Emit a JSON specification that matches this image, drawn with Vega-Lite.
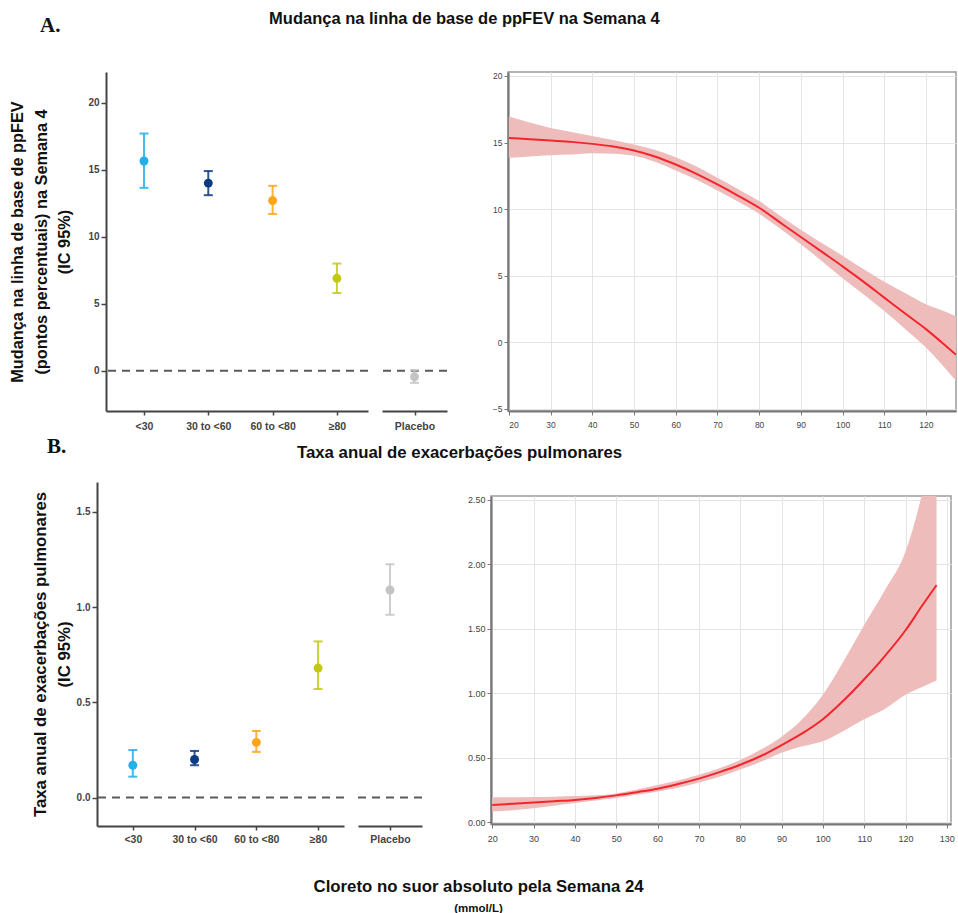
{
  "$schema": "https://vega.github.io/schema/vega-lite/v6.json",
  "padding": {"left": 8, "top": 10, "right": 0, "bottom": 0},
  "background": "white",
  "config": {
    "view": {"stroke": null},
    "font": "Liberation Sans",
    "axis": {"labelFont": "Liberation Sans", "titleFont": "Liberation Sans", "labelColor": "#444", "titleColor": "#111", "grid": false},
    "title": {"font": "Liberation Sans", "color": "#111"}
  },
  "datasets": {
    "fev": [
      {"group": "<30", "est": 15.65, "lo": 13.65, "hi": 17.7},
      {"group": "30 to <60", "est": 14.0, "lo": 13.1, "hi": 14.9},
      {"group": "60 to <80", "est": 12.7, "lo": 11.7, "hi": 13.8},
      {"group": "≥80", "est": 6.9, "lo": 5.8, "hi": 8.0},
      {"group": "Placebo", "est": -0.45, "lo": -0.9, "hi": 0.05}
    ],
    "rate": [
      {"group": "<30", "est": 0.17, "lo": 0.11, "hi": 0.25},
      {"group": "30 to <60", "est": 0.2, "lo": 0.17, "hi": 0.245},
      {"group": "60 to <80", "est": 0.29, "lo": 0.24, "hi": 0.35},
      {"group": "≥80", "est": 0.68, "lo": 0.57, "hi": 0.82},
      {"group": "Placebo", "est": 1.09, "lo": 0.96, "hi": 1.225}
    ],
    "fevCurve": [
      {"x": 20, "est": 15.35, "lo": 13.85, "hi": 16.95},
      {"x": 25, "est": 15.25, "lo": 13.95, "hi": 16.5},
      {"x": 30, "est": 15.15, "lo": 14.05, "hi": 16.1},
      {"x": 35, "est": 15.05, "lo": 14.1, "hi": 15.8},
      {"x": 40, "est": 14.9, "lo": 14.2, "hi": 15.5},
      {"x": 45, "est": 14.7, "lo": 14.15, "hi": 15.2},
      {"x": 50, "est": 14.4, "lo": 14.0, "hi": 14.85},
      {"x": 55, "est": 13.95, "lo": 13.55, "hi": 14.45},
      {"x": 60, "est": 13.35, "lo": 12.9, "hi": 13.9},
      {"x": 65, "est": 12.65, "lo": 12.2, "hi": 13.2},
      {"x": 70, "est": 11.85, "lo": 11.4, "hi": 12.35},
      {"x": 75, "est": 11.0, "lo": 10.55, "hi": 11.5},
      {"x": 80, "est": 10.1, "lo": 9.65, "hi": 10.6},
      {"x": 85, "est": 9.0, "lo": 8.55, "hi": 9.5},
      {"x": 90, "est": 7.9, "lo": 7.35, "hi": 8.45},
      {"x": 95, "est": 6.8, "lo": 6.1, "hi": 7.45},
      {"x": 100, "est": 5.7, "lo": 4.8, "hi": 6.5},
      {"x": 105, "est": 4.55, "lo": 3.6, "hi": 5.5},
      {"x": 110, "est": 3.35, "lo": 2.35, "hi": 4.55},
      {"x": 115, "est": 2.15, "lo": 1.0, "hi": 3.7},
      {"x": 120, "est": 0.98, "lo": -0.4, "hi": 2.85},
      {"x": 125, "est": -0.35, "lo": -2.1, "hi": 2.25},
      {"x": 127.2, "est": -0.95, "lo": -2.9, "hi": 1.95}
    ],
    "rateCurve": [
      {"x": 20, "est": 0.135, "lo": 0.085, "hi": 0.195},
      {"x": 25, "est": 0.145, "lo": 0.095, "hi": 0.195},
      {"x": 30, "est": 0.155, "lo": 0.11, "hi": 0.197},
      {"x": 35, "est": 0.165, "lo": 0.13, "hi": 0.2},
      {"x": 40, "est": 0.175, "lo": 0.15, "hi": 0.205},
      {"x": 45, "est": 0.19, "lo": 0.17, "hi": 0.21},
      {"x": 50, "est": 0.21, "lo": 0.19, "hi": 0.225},
      {"x": 55, "est": 0.235, "lo": 0.215, "hi": 0.255},
      {"x": 60, "est": 0.262, "lo": 0.24, "hi": 0.29},
      {"x": 65, "est": 0.298, "lo": 0.27, "hi": 0.325},
      {"x": 70, "est": 0.34, "lo": 0.31, "hi": 0.37},
      {"x": 75, "est": 0.39, "lo": 0.355, "hi": 0.42},
      {"x": 80, "est": 0.447, "lo": 0.41, "hi": 0.485},
      {"x": 85, "est": 0.515, "lo": 0.47, "hi": 0.565},
      {"x": 90, "est": 0.6, "lo": 0.54, "hi": 0.665},
      {"x": 95, "est": 0.69, "lo": 0.59, "hi": 0.8},
      {"x": 100, "est": 0.8, "lo": 0.63, "hi": 0.99},
      {"x": 105, "est": 0.945, "lo": 0.71, "hi": 1.25},
      {"x": 110, "est": 1.11, "lo": 0.8, "hi": 1.53},
      {"x": 115, "est": 1.29, "lo": 0.88, "hi": 1.8},
      {"x": 120, "est": 1.49, "lo": 0.99, "hi": 2.1},
      {"x": 124, "est": 1.68, "lo": 1.05, "hi": 2.55},
      {"x": 127.5, "est": 1.84, "lo": 1.1, "hi": 3.1}
    ]
  },
  "spacing": 4,
  "vconcat": [
    {
      "title": {"text": "Mudança na linha de base de ppFEV na Semana 4", "fontSize": 16.5, "fontWeight": "bold", "anchor": "middle", "offset": -12, "dx": -18},
      "vconcat": [
        {
          "title": {"text": "A.", "anchor": "start", "font": "Liberation Serif", "fontSize": 21, "fontWeight": "bold", "offset": 35, "dx": 32},
          "spacing": 0,
          "hconcat": [
            {"width": 1, "height": 1, "data": {"values": []}, "mark": "point", "encoding": {}},
            {
              "spacing": 43,
              "hconcat": [
                {
                  "spacing": 12,
                  "hconcat": [
                    {
                      "width": 262, "height": 339,
                      "data": {"name": "fev"},
                      "transform": [{"filter": "datum.group !== 'Placebo'"}],
                      "layer": [
                        {
                          "data": {"values": [{"ref": 0}]},
                          "mark": {"type": "rule", "strokeDash": [8, 6], "strokeWidth": 2, "color": "#5a5a5a"},
                          "encoding": {"y": {"field": "ref", "type": "quantitative", "scale": {"domain": [-3.0, 22.29], "nice": false, "zero": false},
                            "axis": {"title": ["Mudança na linha de base de ppFEV", "(pontos percentuais) na Semana 4", "(IC 95%)"], "titleFontSize": 16.3, "titleFontWeight": "bold", "titleLineHeight": 23.5, "titlePadding": 15, "values": [0, 5, 10, 15, 20], "labelFontSize": 10, "labelFontWeight": "bold", "tickSize": 5, "tickWidth": 1.5, "domainWidth": 2, "domainColor": "#444", "tickColor": "#444"}}}
                        },
                        {
                          "mark": {"type": "rule", "strokeWidth": 2, "opacity": 0.85},
                          "encoding": {
                            "x": {"field": "group", "type": "ordinal", "sort": ["<30", "30 to <60", "60 to <80", "≥80"], "scale": {"type": "point", "padding": 0.537, "align": 0.55},
                              "axis": {"title": null, "labelAngle": 0, "labelFontSize": 10.5, "labelFontWeight": "bold", "labelPadding": 6, "tickSize": 4, "tickWidth": 1.5, "domainWidth": 2, "domainColor": "#444", "tickColor": "#444"}},
                            "y": {"field": "lo", "type": "quantitative", "scale": {"domain": [-3.0, 22.29], "nice": false, "zero": false},
                              "axis": {"title": ["Mudança na linha de base de ppFEV", "(pontos percentuais) na Semana 4", "(IC 95%)"], "titleFontSize": 16.3, "titleFontWeight": "bold", "titleLineHeight": 23.5, "titlePadding": 15, "values": [0, 5, 10, 15, 20], "labelFontSize": 10, "labelFontWeight": "bold", "tickSize": 5, "tickWidth": 1.5, "domainWidth": 2, "domainColor": "#444", "tickColor": "#444"}},
                            "y2": {"field": "hi"},
                            "color": {"field": "group", "type": "nominal", "scale": {"domain": ["<30", "30 to <60", "60 to <80", "≥80", "Placebo"], "range": ["#22b0ea", "#0b3a80", "#ffa41a", "#c3c814", "#c4c4c4"]}, "legend": null}
                          }
                        },
                        {
                          "mark": {"type": "tick", "thickness": 2, "size": 9, "opacity": 0.85},
                          "encoding": {
                            "x": {"field": "group", "type": "ordinal", "sort": ["<30", "30 to <60", "60 to <80", "≥80"], "scale": {"type": "point", "padding": 0.537, "align": 0.55}},
                            "y": {"field": "lo", "type": "quantitative"},
                            "color": {"field": "group", "type": "nominal", "legend": null}
                          }
                        },
                        {
                          "mark": {"type": "tick", "thickness": 2, "size": 9, "opacity": 0.85},
                          "encoding": {
                            "x": {"field": "group", "type": "ordinal", "sort": ["<30", "30 to <60", "60 to <80", "≥80"], "scale": {"type": "point", "padding": 0.537, "align": 0.55}},
                            "y": {"field": "hi", "type": "quantitative"},
                            "color": {"field": "group", "type": "nominal", "legend": null}
                          }
                        },
                        {
                          "mark": {"type": "circle", "size": 80, "opacity": 1},
                          "encoding": {
                            "x": {"field": "group", "type": "ordinal", "sort": ["<30", "30 to <60", "60 to <80", "≥80"], "scale": {"type": "point", "padding": 0.537, "align": 0.55}},
                            "y": {"field": "est", "type": "quantitative"},
                            "color": {"field": "group", "type": "nominal", "legend": null}
                          }
                        }
                      ]
                    },
                    {
                      "width": 65, "height": 339,
                      "data": {"name": "fev"},
                      "transform": [{"filter": "datum.group === 'Placebo'"}],
                      "layer": [
                        {
                          "data": {"values": [{"ref": 0}]},
                          "mark": {"type": "rule", "strokeDash": [8, 6], "strokeWidth": 2, "color": "#5a5a5a"},
                          "encoding": {"y": {"field": "ref", "type": "quantitative", "scale": {"domain": [-3.0, 22.29], "nice": false, "zero": false}, "axis": null}}
                        },
                        {
                          "mark": {"type": "rule", "strokeWidth": 2, "opacity": 0.85},
                          "encoding": {
                            "x": {"field": "group", "type": "ordinal", "scale": {"type": "point", "padding": 0.5},
                              "axis": {"title": null, "labelAngle": 0, "labelFontSize": 10.5, "labelFontWeight": "bold", "labelPadding": 6, "tickSize": 4, "tickWidth": 1.5, "domainWidth": 2, "domainColor": "#444", "tickColor": "#444"}},
                            "y": {"field": "lo", "type": "quantitative", "scale": {"domain": [-3.0, 22.29], "nice": false, "zero": false}, "axis": null},
                            "y2": {"field": "hi"},
                            "color": {"field": "group", "type": "nominal", "scale": {"domain": ["<30", "30 to <60", "60 to <80", "≥80", "Placebo"], "range": ["#22b0ea", "#0b3a80", "#ffa41a", "#c3c814", "#c4c4c4"]}, "legend": null}
                          }
                        },
                        {
                          "mark": {"type": "tick", "thickness": 2, "size": 9, "opacity": 0.85},
                          "encoding": {
                            "x": {"field": "group", "type": "ordinal", "scale": {"type": "point", "padding": 0.5}},
                            "y": {"field": "lo", "type": "quantitative", "axis": null},
                            "color": {"field": "group", "type": "nominal", "legend": null}
                          }
                        },
                        {
                          "mark": {"type": "tick", "thickness": 2, "size": 9, "opacity": 0.85},
                          "encoding": {
                            "x": {"field": "group", "type": "ordinal", "scale": {"type": "point", "padding": 0.5}},
                            "y": {"field": "hi", "type": "quantitative", "axis": null},
                            "color": {"field": "group", "type": "nominal", "legend": null}
                          }
                        },
                        {
                          "mark": {"type": "circle", "size": 80, "opacity": 1},
                          "encoding": {
                            "x": {"field": "group", "type": "ordinal", "scale": {"type": "point", "padding": 0.5}},
                            "y": {"field": "est", "type": "quantitative", "axis": null},
                            "color": {"field": "group", "type": "nominal", "legend": null}
                          }
                        }
                      ]
                    }
                  ]
                },
                {
                  "width": 448, "height": 339,
                  "view": {"stroke": "#9a9a9a", "strokeWidth": 1.5},
                  "data": {"name": "fevCurve"},
                  "layer": [
                    {
                      "mark": {"type": "area", "color": "#efbcbc", "opacity": 1, "interpolate": "monotone", "clip": true},
                      "encoding": {
                        "x": {"field": "x", "type": "quantitative", "scale": {"domain": [19.8, 127.2], "nice": false, "zero": false},
                          "axis": {"title": null, "values": [20, 30, 40, 50, 60, 70, 80, 90, 100, 110, 120], "grid": true, "gridColor": "#e4e4e4", "labelFontSize": 8.5, "labelPadding": 5, "tickSize": 4, "domainWidth": 2, "domainColor": "#777", "tickColor": "#777"}},
                        "y": {"field": "lo", "type": "quantitative", "scale": {"domain": [-5.17, 20.3], "nice": false, "zero": false},
                          "axis": {"title": null, "values": [-5, 0, 5, 10, 15, 20], "grid": true, "gridColor": "#e4e4e4", "labelFontSize": 8.5, "labelPadding": 2, "tickSize": 4, "domainWidth": 2, "domainColor": "#777", "tickColor": "#777"}},
                        "y2": {"field": "hi"}
                      }
                    },
                    {
                      "mark": {"type": "line", "color": "#f2262c", "strokeWidth": 2, "interpolate": "monotone", "clip": true},
                      "encoding": {
                        "x": {"field": "x", "type": "quantitative"},
                        "y": {"field": "est", "type": "quantitative"}
                      }
                    }
                  ]
                }
              ]
            }
          ]
        }
      ]
    },
    {
      "title": {"text": "Cloreto no suor absoluto pela Semana 24", "subtitle": "(mmol/L)", "orient": "bottom", "fontSize": 16.8, "fontWeight": "bold", "subtitleFontSize": 11.5, "subtitleFontWeight": "bold", "subtitleColor": "#111", "subtitlePadding": 8, "offset": 34, "anchor": "middle", "dx": -3},
      "vconcat": [
        {
          "title": {"text": "Taxa anual de exacerbações pulmonares", "fontSize": 16.8, "fontWeight": "bold", "anchor": "middle", "offset": -25.4, "dx": -22},
          "vconcat": [
            {
              "title": {"text": "B.", "anchor": "start", "font": "Liberation Serif", "fontSize": 21, "fontWeight": "bold", "offset": 25, "dx": 39},
              "spacing": 0,
              "hconcat": [
                {"width": 24, "height": 1, "data": {"values": []}, "mark": "point", "encoding": {}},
                {
                  "spacing": 43,
                  "hconcat": [
                    {
                      "spacing": 12,
                      "hconcat": [
                        {
                          "width": 247, "height": 344,
                          "data": {"name": "rate"},
                          "transform": [{"filter": "datum.group !== 'Placebo'"}],
                          "layer": [
                            {
                              "data": {"values": [{"ref": 0}]},
                              "mark": {"type": "rule", "strokeDash": [8, 6], "strokeWidth": 2, "color": "#5a5a5a"},
                              "encoding": {"y": {"field": "ref", "type": "quantitative", "scale": {"domain": [-0.149, 1.657], "nice": false, "zero": false},
                                "axis": {"title": ["Taxa anual de exacerbações pulmonares", "(IC 95%)"], "titleFontSize": 16.8, "titleFontWeight": "bold", "titleLineHeight": 23.5, "titlePadding": 3, "values": [0, 0.5, 1, 1.5], "format": ".1f", "labelFontSize": 10, "labelFontWeight": "bold", "tickSize": 5, "tickWidth": 1.5, "domainWidth": 2, "domainColor": "#444", "tickColor": "#444"}}}
                            },
                            {
                              "mark": {"type": "rule", "strokeWidth": 2, "opacity": 0.85},
                              "encoding": {
                                "x": {"field": "group", "type": "ordinal", "sort": ["<30", "30 to <60", "60 to <80", "≥80"], "scale": {"type": "point", "padding": 0.5, "align": 0.58},
                                  "axis": {"title": null, "labelAngle": 0, "labelFontSize": 10.5, "labelFontWeight": "bold", "labelPadding": 4, "tickSize": 4, "tickWidth": 1.5, "domainWidth": 2, "domainColor": "#444", "tickColor": "#444"}},
                                "y": {"field": "lo", "type": "quantitative", "scale": {"domain": [-0.149, 1.657], "nice": false, "zero": false},
                                  "axis": {"title": ["Taxa anual de exacerbações pulmonares", "(IC 95%)"], "titleFontSize": 16.8, "titleFontWeight": "bold", "titleLineHeight": 23.5, "titlePadding": 3, "values": [0, 0.5, 1, 1.5], "format": ".1f", "labelFontSize": 10, "labelFontWeight": "bold", "tickSize": 5, "tickWidth": 1.5, "domainWidth": 2, "domainColor": "#444", "tickColor": "#444"}},
                                "y2": {"field": "hi"},
                                "color": {"field": "group", "type": "nominal", "scale": {"domain": ["<30", "30 to <60", "60 to <80", "≥80", "Placebo"], "range": ["#22b0ea", "#0b3a80", "#ffa41a", "#c3c814", "#c4c4c4"]}, "legend": null}
                              }
                            },
                            {
                              "mark": {"type": "tick", "thickness": 2, "size": 9, "opacity": 0.85},
                              "encoding": {
                                "x": {"field": "group", "type": "ordinal", "sort": ["<30", "30 to <60", "60 to <80", "≥80"], "scale": {"type": "point", "padding": 0.5, "align": 0.58}},
                                "y": {"field": "lo", "type": "quantitative"},
                                "color": {"field": "group", "type": "nominal", "legend": null}
                              }
                            },
                            {
                              "mark": {"type": "tick", "thickness": 2, "size": 9, "opacity": 0.85},
                              "encoding": {
                                "x": {"field": "group", "type": "ordinal", "sort": ["<30", "30 to <60", "60 to <80", "≥80"], "scale": {"type": "point", "padding": 0.5, "align": 0.58}},
                                "y": {"field": "hi", "type": "quantitative"},
                                "color": {"field": "group", "type": "nominal", "legend": null}
                              }
                            },
                            {
                              "mark": {"type": "circle", "size": 80, "opacity": 1},
                              "encoding": {
                                "x": {"field": "group", "type": "ordinal", "sort": ["<30", "30 to <60", "60 to <80", "≥80"], "scale": {"type": "point", "padding": 0.5, "align": 0.58}},
                                "y": {"field": "est", "type": "quantitative"},
                                "color": {"field": "group", "type": "nominal", "legend": null}
                              }
                            }
                          ]
                        },
                        {
                          "width": 64, "height": 344,
                          "data": {"name": "rate"},
                          "transform": [{"filter": "datum.group === 'Placebo'"}],
                          "layer": [
                            {
                              "data": {"values": [{"ref": 0}]},
                              "mark": {"type": "rule", "strokeDash": [8, 6], "strokeWidth": 2, "color": "#5a5a5a"},
                              "encoding": {"y": {"field": "ref", "type": "quantitative", "scale": {"domain": [-0.149, 1.657], "nice": false, "zero": false}, "axis": null}}
                            },
                            {
                              "mark": {"type": "rule", "strokeWidth": 2, "opacity": 0.85},
                              "encoding": {
                                "x": {"field": "group", "type": "ordinal", "scale": {"type": "point", "padding": 0.5},
                                  "axis": {"title": null, "labelAngle": 0, "labelFontSize": 10.5, "labelFontWeight": "bold", "labelPadding": 4, "tickSize": 4, "tickWidth": 1.5, "domainWidth": 2, "domainColor": "#444", "tickColor": "#444"}},
                                "y": {"field": "lo", "type": "quantitative", "scale": {"domain": [-0.149, 1.657], "nice": false, "zero": false}, "axis": null},
                                "y2": {"field": "hi"},
                                "color": {"field": "group", "type": "nominal", "scale": {"domain": ["<30", "30 to <60", "60 to <80", "≥80", "Placebo"], "range": ["#22b0ea", "#0b3a80", "#ffa41a", "#c3c814", "#c4c4c4"]}, "legend": null}
                              }
                            },
                            {
                              "mark": {"type": "tick", "thickness": 2, "size": 9, "opacity": 0.85},
                              "encoding": {
                                "x": {"field": "group", "type": "ordinal", "scale": {"type": "point", "padding": 0.5}},
                                "y": {"field": "lo", "type": "quantitative", "axis": null},
                                "color": {"field": "group", "type": "nominal", "legend": null}
                              }
                            },
                            {
                              "mark": {"type": "tick", "thickness": 2, "size": 9, "opacity": 0.85},
                              "encoding": {
                                "x": {"field": "group", "type": "ordinal", "scale": {"type": "point", "padding": 0.5}},
                                "y": {"field": "hi", "type": "quantitative", "axis": null},
                                "color": {"field": "group", "type": "nominal", "legend": null}
                              }
                            },
                            {
                              "mark": {"type": "circle", "size": 80, "opacity": 1},
                              "encoding": {
                                "x": {"field": "group", "type": "ordinal", "scale": {"type": "point", "padding": 0.5}},
                                "y": {"field": "est", "type": "quantitative", "axis": null},
                                "color": {"field": "group", "type": "nominal", "legend": null}
                              }
                            }
                          ]
                        }
                      ]
                    },
                    {
                      "spacing": 12,
                      "vconcat": [
                        {"width": 460, "height": 1, "data": {"values": []}, "mark": "point", "encoding": {}},
                        {
                          "width": 460, "height": 328,
                          "view": {"stroke": "#9a9a9a", "strokeWidth": 1.5},
                          "data": {"name": "rateCurve"},
                          "layer": [
                            {
                              "mark": {"type": "area", "color": "#efbcbc", "opacity": 1, "interpolate": "monotone", "clip": true},
                              "encoding": {
                                "x": {"field": "x", "type": "quantitative", "scale": {"domain": [19.7, 131], "nice": false, "zero": false},
                                  "axis": {"title": null, "values": [20, 30, 40, 50, 60, 70, 80, 90, 100, 110, 120, 130], "grid": true, "gridColor": "#e4e4e4", "labelFontSize": 9, "labelPadding": 6, "tickSize": 4, "domainWidth": 2, "domainColor": "#777", "tickColor": "#777"}},
                                "y": {"field": "lo", "type": "quantitative", "scale": {"domain": [-0.012, 2.531], "nice": false, "zero": false},
                                  "axis": {"title": null, "values": [0, 0.25, 0.5, 0.75, 1, 1.25, 1.5, 1.75, 2, 2.25, 2.5], "format": ".2f", "grid": true, "gridColor": "#e4e4e4", "labelFontSize": 9, "labelPadding": 2, "tickSize": 4, "domainWidth": 2, "domainColor": "#777", "tickColor": "#777"}},
                                "y2": {"field": "hi"}
                              }
                            },
                            {
                              "mark": {"type": "line", "color": "#f2262c", "strokeWidth": 2, "interpolate": "monotone", "clip": true},
                              "encoding": {
                                "x": {"field": "x", "type": "quantitative"},
                                "y": {"field": "est", "type": "quantitative"}
                              }
                            }
                          ]
                        }
                      ]
                    }
                  ]
                }
              ]
            }
          ]
        }
      ]
    }
  ]
}
